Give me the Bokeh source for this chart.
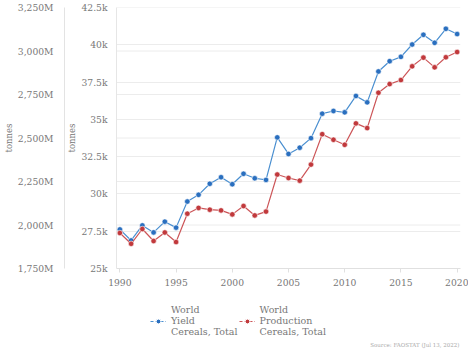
from bokeh.plotting import figure
from bokeh.layouts import column
from bokeh.models import (Range1d, LinearAxis, Legend, LegendItem, Label,
                          CustomJSTickFormatter, FixedTicker)
from bokeh.embed import file_html
from bokeh.resources import INLINE

years = list(range(1990, 2021))
yield_k = [27.62, 26.88, 27.89, 27.42, 28.14, 27.74, 29.49, 29.94, 30.68, 31.12,
           30.65, 31.35, 31.05, 30.94, 33.79, 32.68, 33.10, 33.74, 35.38, 35.56,
           35.47, 36.57, 36.14, 38.21, 38.90, 39.19, 40.02, 40.67, 40.13, 41.07, 40.72]
production_m = [1954, 1892, 1977, 1908, 1957, 1902, 2065, 2098, 2088, 2084,
                2061, 2109, 2055, 2077, 2290, 2270, 2255, 2347, 2522, 2490,
                2461, 2584, 2557, 2760, 2810, 2833, 2912, 2962, 2906, 2964, 2994]
yield_ticks = [25000, 27500, 30000, 32500, 35000, 37500, 40000, 42500]
prod_ticks = [1750, 2000, 2250, 2500, 2750, 3000, 3250]
x_ticks = [1990, 1995, 2000, 2005, 2010, 2015, 2020]
series_names = ["World\nYield\nCereals, Total", "World\nProduction\nCereals, Total"]
source_text = "Source: FAOSTAT (Jul 13, 2022)"

yield_vals = [v * 1000 for v in yield_k]
NAN = [float("nan")]

FONT = "DejaVu Serif"
TXT = "#777777"
BLUE = "#2a6fbf"
BLUE_L = "#4a8fd0"
RED = "#c1393c"
RED_L = "#cc5558"
GRID = "#ececec"

p = figure(width=468, height=295, output_backend="svg", toolbar_location=None,
           x_range=Range1d(1989.7, 2020.3), y_range=Range1d(25000, 42500),
           min_border_left=0, min_border_right=8, min_border_top=7,
           min_border_bottom=27, outline_line_color=None)
p.extra_y_ranges = {"prod": Range1d(1750, 3250)}

p.xgrid.grid_line_color = None
p.ygrid.grid_line_color = GRID
p.ygrid.ticker = FixedTicker(ticks=yield_ticks)

p.segment(x0=[1989.7] * len(prod_ticks), x1=[2020.3] * len(prod_ticks),
          y0=prod_ticks, y1=prod_ticks, y_range_name="prod",
          line_color=GRID, line_width=1)

yax = p.yaxis[0]
yax.ticker = FixedTicker(ticks=yield_ticks)
yax.formatter = CustomJSTickFormatter(code="""
var v = tick/1000; var s = (Math.round(v*10)/10).toString(); return s + 'k';""")
yax.axis_label = "tonnes"
yax.axis_line_color = "#e6e6e6"

pax = LinearAxis(y_range_name="prod", ticker=FixedTicker(ticks=prod_ticks),
                 axis_label="tonnes")
pax.formatter = CustomJSTickFormatter(code="""
return tick.toLocaleString('en-US') + 'M';""")
pax.axis_line_color = "#e3e3e3"
p.add_layout(pax, "left")

for ax in [yax, pax]:
    ax.major_tick_line_color = None
    ax.minor_tick_line_color = None
    ax.major_tick_out = 0
    ax.major_tick_in = 0
    ax.minor_tick_out = 0
    ax.minor_tick_in = 0
    ax.major_label_text_font = FONT
    ax.major_label_text_font_size = "9.2px"
    ax.major_label_text_color = TXT
    ax.axis_label_text_font = FONT
    ax.axis_label_text_font_size = "8.5px"
    ax.axis_label_text_font_style = "normal"
    ax.axis_label_text_color = TXT
    ax.axis_label_standoff = 1
yax.major_label_standoff = 9
pax.major_label_standoff = 11

xax = p.xaxis[0]
xax.ticker = FixedTicker(ticks=x_ticks)
xax.axis_line_color = "#e0e0e0"
xax.major_tick_line_color = "#e0e0e0"
xax.major_tick_out = 4
xax.major_tick_in = 0
xax.minor_tick_line_color = None
xax.major_label_text_font = FONT
xax.major_label_text_font_size = "9.2px"
xax.major_label_text_color = TXT
xax.major_label_standoff = 6

p.line(years, yield_vals, line_color=BLUE_L, line_width=1.2)
p.scatter(years, yield_vals, size=5.5, fill_color=BLUE, line_color="white", line_width=0.6)
p.line(years, production_m, y_range_name="prod", line_color=RED_L, line_width=1.2)
p.scatter(years, production_m, y_range_name="prod", size=5.5, fill_color=RED,
          line_color="white", line_width=0.6)

# lower panel for legend and source note (its frame aligns with the chart's frame)
p2 = figure(width=468, height=56, output_backend="svg", toolbar_location=None,
            x_range=Range1d(0, 1), y_range=Range1d(0, 1),
            x_axis_location=None, y_axis_location=None,
            min_border=0, outline_line_color=None)
p2.grid.visible = False

lb = p2.line(NAN, NAN, line_color=BLUE_L, line_width=1.2, line_dash="3 2")
sb = p2.scatter(NAN, NAN, size=5.5, fill_color=BLUE, line_color="white")
lr = p2.line(NAN, NAN, line_color=RED_L, line_width=1.2, line_dash="3 2")
sr = p2.scatter(NAN, NAN, size=5.5, fill_color=RED, line_color="white")

legend = Legend(items=[LegendItem(label=series_names[0], renderers=[lb, sb]),
                       LegendItem(label=series_names[1], renderers=[lr, sr])],
                orientation="horizontal", location=(34, 14),
                label_text_font=FONT, label_text_font_size="9.5px",
                label_text_color=TXT, label_text_line_height=1.3,
                glyph_width=16, glyph_height=12, spacing=1, padding=2,
                margin=0, border_line_color=None, background_fill_alpha=0,
                label_standoff=5, label_height=12)
p2.add_layout(legend)

src = Label(x=343, y=7, x_units="screen", y_units="screen", text=source_text,
            text_align="right", text_baseline="middle", text_font=FONT,
            text_font_size="5.5px", text_color="#aaaaaa")
p2.add_layout(src)

open("out.html", "w").write(file_html(column(p, p2, spacing=0), INLINE))
